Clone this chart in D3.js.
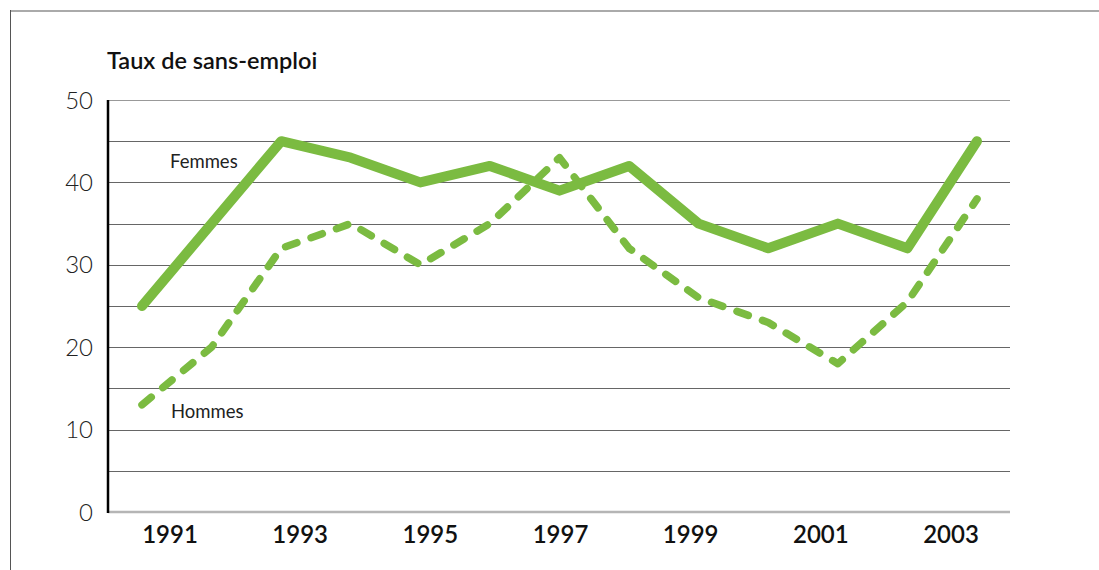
<!DOCTYPE html>
<html>
<head>
<meta charset="utf-8">
<script src="https://cdn.jsdelivr.net/npm/d3@7"></script>
<style>
  body { margin: 0; background: #fff; }
  svg { display: block; font-family: Lato, 'Open Sans', 'Liberation Sans', sans-serif; }
  .tick-y { font-size: 24px; font-weight: 300; fill: #222; }
  .tick-x { font-size: 24px; font-weight: 600; fill: #111; }
  .plot-title { font-size: 23.5px; font-weight: 600; fill: #111; }
  .series-label { font-size: 18.5px; font-weight: 400; fill: #222; }
</style>
</head>
<body>
<div id="chart"></div>
<script>
'use strict';

// data
var years = [1991, 1992, 1993, 1994, 1995, 1996, 1997, 1998, 1999, 2000, 2001, 2002, 2003];
var yearLabels = [1991, 1993, 1995, 1997, 1999, 2001, 2003];
var femmesYears = [1991, 1993, 1994, 1995, 1996, 1997, 1998, 1999, 2000, 2001, 2002, 2003];
var femmesValues = [25, 45, 43, 40, 42, 39, 42, 35, 32, 35, 32, 45];
var hommesYears = years;
var hommesValues = [13, 20, 32, 35, 30, 35, 43, 32, 26, 23, 18, 25.5, 38];
var yTicks = [0, 10, 20, 30, 40, 50];
var yGrid = [5, 10, 15, 20, 25, 30, 35, 40, 45, 50];

var WIDTH = 1099,
    HEIGHT = 570,
    GREEN = '#7bbb41';

var svg = d3.select('#chart').append('svg')
    .attr('width', WIDTH)
    .attr('height', HEIGHT);

// outer frame
svg.append('line')
    .attr('x1', 10).attr('x2', WIDTH)
    .attr('y1', 11).attr('y2', 11)
    .attr('stroke', '#aaa').attr('stroke-width', 2);
svg.append('line')
    .attr('x1', 10.5).attr('x2', 10.5)
    .attr('y1', 10).attr('y2', HEIGHT)
    .attr('stroke', '#555').attr('stroke-width', 1);

var plotLeft = 108,
    plotRight = 1010,
    plotTop = 100,
    plotBottom = 512;

var y = d3.scaleLinear().domain([0, 50]).range([plotBottom, plotTop]);
// the drawn points and the year labels do not share the same spacing
var xData = d3.scalePoint().domain(years).range([142, 977]);
var xLabel = d3.scalePoint().domain(years).range([170, 951]);

// grid
svg.append('g')
    .selectAll('line')
    .data(yGrid)
    .join('line')
    .attr('x1', plotLeft).attr('x2', plotRight)
    .attr('y1', function (d) { return Math.round(y(d)) + 0.5; })
    .attr('y2', function (d) { return Math.round(y(d)) + 0.5; })
    .attr('stroke', function (d) { return d === 50 ? '#999' : '#666'; })
    .attr('stroke-width', 1.2);

// baseline
svg.append('line')
    .attr('x1', plotLeft).attr('x2', plotRight)
    .attr('y1', y(0)).attr('y2', y(0))
    .attr('stroke', '#b5b5b5').attr('stroke-width', 2.5);

// y axis
svg.append('line')
    .attr('x1', plotLeft).attr('x2', plotLeft)
    .attr('y1', y(50)).attr('y2', y(0) + 1)
    .attr('stroke', '#000').attr('stroke-width', 2.5);

svg.append('g')
    .selectAll('text')
    .data(yTicks)
    .join('text')
    .attr('class', 'tick-y')
    .attr('x', 93)
    .attr('y', function (d) { return y(d); })
    .attr('dy', '0.36em')
    .attr('text-anchor', 'end')
    .text(function (d) { return d; });

svg.append('g')
    .selectAll('text')
    .data(yearLabels)
    .join('text')
    .attr('class', 'tick-x')
    .attr('x', function (d) { return xLabel(d); })
    .attr('y', 543)
    .attr('text-anchor', 'middle')
    .text(function (d) { return d; });

svg.append('text')
    .attr('class', 'plot-title')
    .attr('x', 107)
    .attr('y', 69)
    .text('Taux de sans-emploi');

var line = d3.line()
    .x(function (d) { return xData(d[0]); })
    .y(function (d) { return y(d[1]); });

svg.append('path')
    .datum(d3.zip(hommesYears, hommesValues))
    .attr('d', line)
    .attr('fill', 'none')
    .attr('stroke', GREEN)
    .attr('stroke-width', 7.5)
    .attr('stroke-linecap', 'round')
    .attr('stroke-linejoin', 'round')
    .attr('stroke-dasharray', '12 15');

svg.append('path')
    .datum(d3.zip(femmesYears, femmesValues))
    .attr('d', line)
    .attr('fill', 'none')
    .attr('stroke', GREEN)
    .attr('stroke-width', 10)
    .attr('stroke-linecap', 'round')
    .attr('stroke-linejoin', 'round');

svg.append('text')
    .attr('class', 'series-label')
    .attr('x', 170)
    .attr('y', 168)
    .text('Femmes');

svg.append('text')
    .attr('class', 'series-label')
    .attr('x', 171)
    .attr('y', 418)
    .text('Hommes');
</script>
</body>
</html>
